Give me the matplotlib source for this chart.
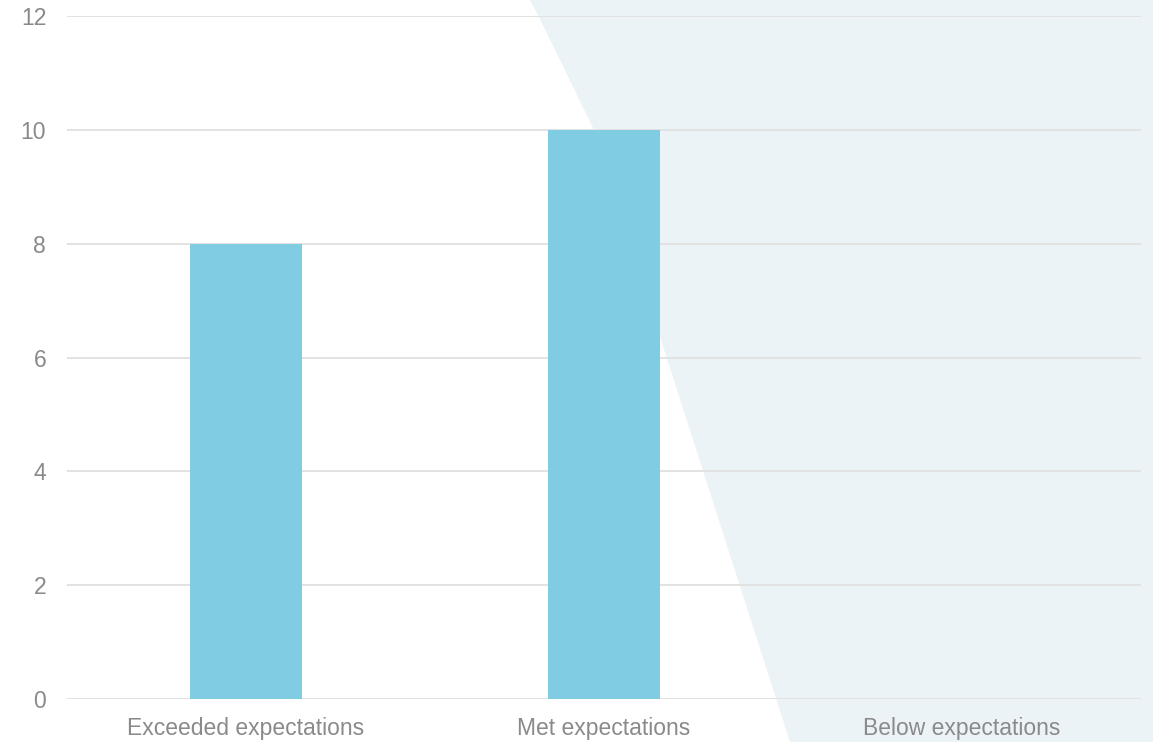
import numpy as np
import matplotlib.pyplot as plt
from matplotlib.patches import Polygon

categories = ["Exceeded expectations", "Met expectations", "Below expectations"]
values = [8, 10, 0]
yticks = [0, 2, 4, 6, 8, 10, 12]

W, H = 1153, 742
fig = plt.figure(figsize=(W / 100, H / 100), dpi=100)
plt.rcParams['font.family'] = ['Liberation Sans', 'DejaVu Sans']

# decorative light band on the right (pixel outline converted to figure fraction)
band = [(530, 0), (538, 15), (560, 60), (593, 128), (790, 742), (W, 742), (W, 0)]
band = [(x / W, 1 - y / H) for x, y in band]
fig.patches.append(Polygon(band, closed=True, transform=fig.transFigure,
                           facecolor='#EBF3F7', edgecolor='none', zorder=-5))

ax = fig.add_axes([67 / W, 1 - 699 / H, (1141 - 67) / W, (699 - 16) / H])
ax.set_facecolor('none')
ax.set_zorder(1)

x = np.arange(len(categories))
ax.bar(x, values, width=0.313, color='#7FCCE3', zorder=3)

ax.set_xlim(-0.5, 2.5)
ax.set_ylim(0, 12)
ax.set_yticks(yticks)
ax.set_xticks(x)
ax.set_xticklabels(categories)
ax.yaxis.grid(True, color='#E2E2E2', linewidth=1.4, zorder=0)
ax.set_axisbelow(True)
for s in ax.spines.values():
    s.set_visible(False)
ax.tick_params(length=0, labelsize=16.5, labelcolor='#8A8A8A')
ax.tick_params(axis='y', pad=15)
ax.tick_params(axis='x', pad=13)
ax.axhline(0, color='#E2E2E2', linewidth=1.4, zorder=1)

fig.savefig('out.png', dpi=100)
